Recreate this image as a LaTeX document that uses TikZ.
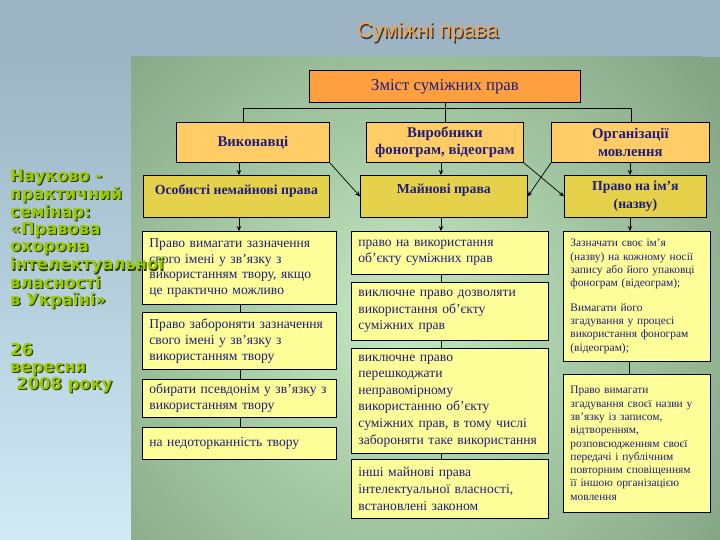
\documentclass[tikz,border=0pt]{standalone}
\usepackage{fontspec}
\setmainfont{Liberation Serif}
\newfontfamily\titlefont{Liberation Sans}
\newfontfamily\leftfont{DejaVu Sans}
\usetikzlibrary{arrows.meta}
\definecolor{navy}{HTML}{1E1E78}
\definecolor{orangetop}{HTML}{FFA040}
\definecolor{orangetwo}{HTML}{FFCC66}
\definecolor{yellowthree}{HTML}{E6D14A}
\definecolor{paleyellow}{HTML}{FFFF99}
\definecolor{titlecol}{HTML}{F4A24E}
\definecolor{shadowcol}{HTML}{333333}
\definecolor{leftgreen}{HTML}{99CC00}
\definecolor{leftshadow}{HTML}{2E3B10}
\definecolor{bgtop}{HTML}{9CB4C4}
\definecolor{bgbottom}{HTML}{D0EAF6}
\definecolor{greenin}{HTML}{C4E9C2}
\definecolor{greenout}{HTML}{84A584}
\newcommand\shd[3]{\makebox[0pt][l]{\hspace{1.2pt}\raisebox{-1.2pt}{\textcolor{#1}{#3}}}\textcolor{#2}{#3}}
\tikzset{
  hdr/.style={draw=black, line width=0.8pt, anchor=north west, align=center, inner sep=0pt, text=navy},
  topbox/.style={hdr, fill=orangetop, font=\fontsize{16.7}{18}\selectfont},
  lvltwo/.style={hdr, fill=orangetwo, font=\bfseries\fontsize{14.8}{17.5}\selectfont},
  lvlthree/.style={hdr, fill=yellowthree, font=\bfseries\fontsize{13.8}{18}\selectfont},
  cont/.style={draw=black, line width=0.8pt, fill=paleyellow, anchor=north west, align=left, inner xsep=7pt, inner ysep=0pt, text=navy},
  contA/.style={cont, font=\fontsize{13.6}{15.7}\selectfont},
  contB/.style={cont, font=\fontsize{13.6}{16.6}\selectfont},
  contC/.style={cont, font=\fontsize{11.4}{13.3}\selectfont},
  ln/.style={draw=black, line width=0.7pt},
  arr/.style={ln, -{Stealth[length=5pt,width=4.5pt]}},
}
\begin{document}
\begin{tikzpicture}[x=1pt,y=-1pt]
\useasboundingbox (0,0) rectangle (720,540);
% backgrounds
\fill[bgtop] (0,0) rectangle (720,57);
\shade[top color=bgtop, bottom color=bgbottom] (0,57) rectangle (131,540);
\begin{scope}
\clip (131,57) rectangle (720,540);
\fill[greenout] (131,57) rectangle (720,540);
\shade[inner color=greenin, outer color=greenout] (400,320) circle (400);
\end{scope}
% title
\node[font=\titlefont\fontsize{21.5}{24}\selectfont, inner sep=0] (title) at (428,33) {\shd{shadowcol}{titlecol}{Суміжні права}};
% level 1
\node[topbox, minimum width=271, minimum height=32] (top) at (309,70) {Зміст суміжних прав};
% level 2
\node[lvltwo, minimum width=153, minimum height=40] (vyk) at (176,122) {Виконавці};
\node[lvltwo, minimum width=157, minimum height=40] (vyr) at (366,122) {Виробники\\фонограм, відеограм};
\node[lvltwo, minimum width=158, minimum height=40] (org) at (551,122) {Організації\\мовлення};
% level 3
\node[lvlthree, minimum width=186, text height=19.5pt, text depth=22.5pt] (osob) at (143,175) {Особисті немайнові права};
\node[lvlthree, minimum width=167, text height=18pt, text depth=24pt] (main) at (360,175) {Майнові права};
\node[lvlthree, minimum width=142, minimum height=42] (name) at (564,175) {Право на ім’я\\(назву)};
% left column
\node[contA, text width=180, minimum height=73] (L1) at (142,231) {Право вимагати зазначення\\свого імені у зв'язку з\\використанням твору, якщо\\це практично можливо};
\node[contA, text width=180, minimum height=57] (L2) at (142,312) {Право забороняти зазначення\\свого імені у зв'язку з\\використанням твору};
\node[contA, text width=180, minimum height=38] (L3) at (142,379) {обирати псевдонім у зв'язку з\\використанням твору};
\node[contA, text width=180, minimum height=32] (L4) at (142,427) {на недоторканність твору};
% middle column
\node[contB, text width=183, minimum height=43] (M1) at (351,231) {право на використання\\об'єкту суміжних прав};
\node[contB, text width=183, minimum height=58] (M2) at (351,282) {виключне право дозволяти\\використання об'єкту\\суміжних прав};
\node[contB, text width=183, minimum height=105] (M3) at (351,348) {виключне право\\перешкоджати\\неправомірному\\використанню об'єкту\\суміжних прав, в тому числі\\забороняти таке використання};
\node[contB, text width=183, minimum height=59] (M4) at (351,459) {інші майнові права\\інтелектуальної власності,\\встановлені законом};
% right column
\node[contC, text width=133, minimum height=130] (R1) at (563,231) {Зазначати своє ім’я\\(назву) на кожному носії\\запису або його упаковці\\фонограм (відеограм);\\[11pt]Вимагати його\\згадування у процесі\\використання фонограм\\(відеограм);};
\node[contC, text width=133, minimum height=138] (R2) at (563,374) {Право вимагати\\згадування своєї назви у\\зв’язку із записом,\\відтворенням,\\розповсюдженням своєї\\передачі і публічним\\повторним сповіщенням\\її іншою організацією\\мовлення};
% connectors
\coordinate (hL) at (243,108);
\coordinate (hR) at (631,108);
\coordinate (a1) at (239,0);
\coordinate (a2) at (441,0);
\coordinate (a3) at (630,0);
\coordinate (c1) at (240,0);
\coordinate (c2) at (441,0);
\coordinate (c3) at (629,0);
\draw[ln] (top.south) -- (vyr.north);
\draw[ln] (hL) -- (hR);
\draw[ln] (hL) -- (hL |- vyk.north);
\draw[ln] (hR) -- (hR |- org.north);
\draw[arr] (a1 |- vyk.south) -- (a1 |- osob.north);
\draw[arr] (a2 |- vyr.south) -- (a2 |- main.north);
\draw[arr] (a3 |- org.south) -- (a3 |- name.north);
\draw[arr] (vyk.south east) -- (main.west);
\draw[arr] (vyr.south east) -- (name.west);
\draw[arr] (org.south west) -- (main.east);
\draw[arr] (a1 |- osob.south) -- (a1 |- L1.north);
\draw[arr] (a2 |- main.south) -- (a2 |- M1.north);
\draw[arr] (a3 |- name.south) -- (a3 |- R1.north);
\draw[ln] (c1 |- L1.south) -- (c1 |- L2.north);
\draw[ln] (c1 |- L2.south) -- (c1 |- L3.north);
\draw[ln] (c1 |- L3.south) -- (c1 |- L4.north);
\draw[ln] (c2 |- M1.south) -- (c2 |- M2.north);
\draw[ln] (c2 |- M2.south) -- (c2 |- M3.north);
\draw[ln] (c2 |- M3.south) -- (c2 |- M4.north);
\draw[ln] (c3 |- R1.south) -- (c3 |- R2.north);
% left text
\node[anchor=north west, align=left, inner sep=0pt, font=\leftfont\bfseries\fontsize{16.4}{17}\selectfont] (seminar) at (10,169) {%
\shd{leftshadow}{leftgreen}{Науково -}\\
\shd{leftshadow}{leftgreen}{практичний}\\
\shd{leftshadow}{leftgreen}{семінар:}\\
\shd{leftshadow}{leftgreen}{«Правова}\\
\shd{leftshadow}{leftgreen}{охорона}\\
\shd{leftshadow}{leftgreen}{інтелектуальної}\\
\shd{leftshadow}{leftgreen}{власності}\\
\shd{leftshadow}{leftgreen}{в Україні»}\\[33pt]
\shd{leftshadow}{leftgreen}{26}\\
\shd{leftshadow}{leftgreen}{вересня}\\
\hspace*{6pt}\shd{leftshadow}{leftgreen}{2008 року}};
\end{tikzpicture}
\end{document}
